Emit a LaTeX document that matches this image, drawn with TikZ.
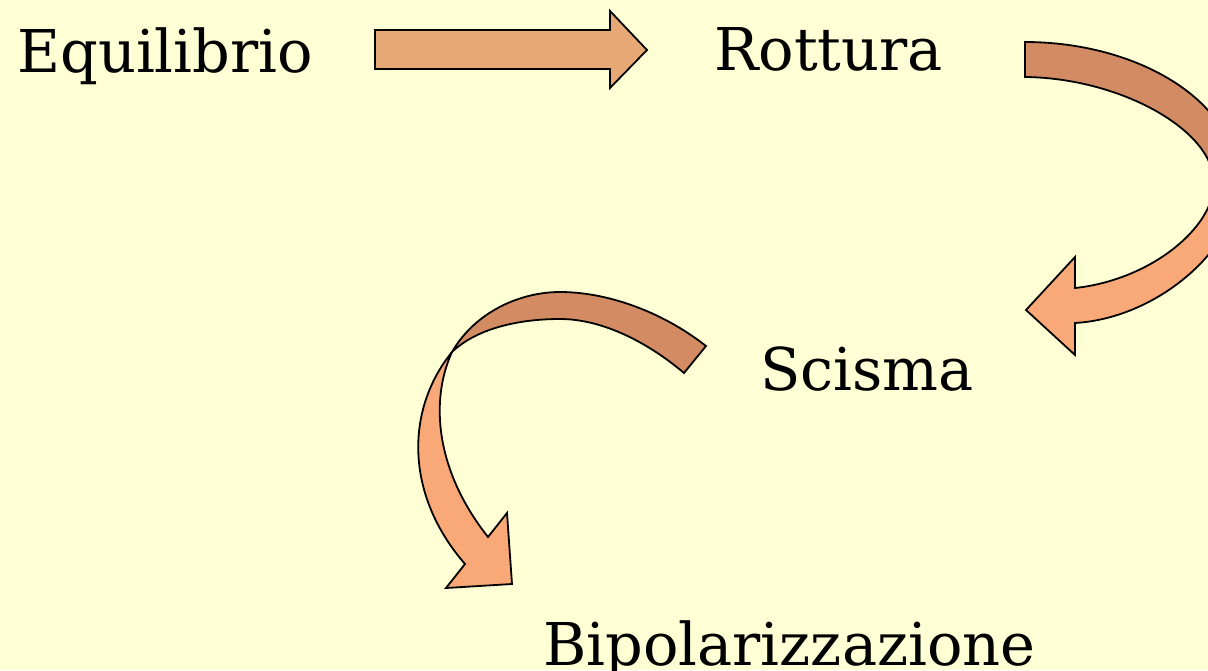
\documentclass[tikz,border=0pt]{standalone}
\usepackage{fontspec}
\setmainfont{DejaVu Serif}
\definecolor{bgyellow}{HTML}{FFFFD6}
\definecolor{straightfill}{HTML}{E6A976}
\definecolor{darkfill}{HTML}{D38B64}
\definecolor{lightfill}{HTML}{F9A877}
\tikzset{
  arrowshape/.style={draw=black, line width=1.8pt, line join=miter},
  label/.style={anchor=base west, inner sep=0pt, font=\fontsize{59}{62}\selectfont},
}
\begin{document}
\begin{tikzpicture}[x=1pt,y=-1pt]
\fill[bgyellow] (0,0) rectangle (1208,670);
\useasboundingbox (0,0) rectangle (1208,670);
\begin{scope}
\clip (0,0) rectangle (1208,670);
% labels
\node[label] (equ) at (17,72) {Equilibrio};
\node[label] (rot) at (714,70) {Rottura};
\node[label] (sci) at (760,390) {Scisma};
\node[label] (bip) at (543,665) {Bipolarizzazione};
% straight arrow
\draw[arrowshape, fill=straightfill] (375,30) -- (610,30) -- (610,11) -- (647,50) -- (610,88) -- (610,69) -- (375,69) -- cycle;
% right curved arrow: back (dark) part
\draw[arrowshape, fill=darkfill] (1025,42) .. controls (1136,42) and (1238,100) .. (1238,183)
  -- (1214,183) .. controls (1214,130) and (1120,78) .. (1025,77) -- cycle;
% right curved arrow: front (light) part
\draw[arrowshape, fill=lightfill] (1238,183) .. controls (1240,245) and (1160,318) .. (1075,323)
  -- (1075,355) -- (1026,310) -- (1075,257) -- (1075,288)
  .. controls (1150,280) and (1214,228) .. (1214,183) -- cycle;
% lower curved arrow: back (dark) part
\draw[arrowshape, fill=darkfill] (706,346) .. controls (660,310) and (605,292) .. (560,292)
  .. controls (520,292) and (475,312) .. (452,352)
  .. controls (475,330) and (515,319) .. (560,319)
  .. controls (600,319) and (645,340) .. (684,373) -- cycle;
% lower curved arrow: front (light) part
\draw[arrowshape, fill=lightfill] (452,352) .. controls (405,410) and (405,495) .. (465,564)
  -- (446,588) -- (512,584) -- (507,513) -- (488,537)
  .. controls (435,470) and (430,400) .. (452,352) -- cycle;
\end{scope}
\end{tikzpicture}
\end{document}
